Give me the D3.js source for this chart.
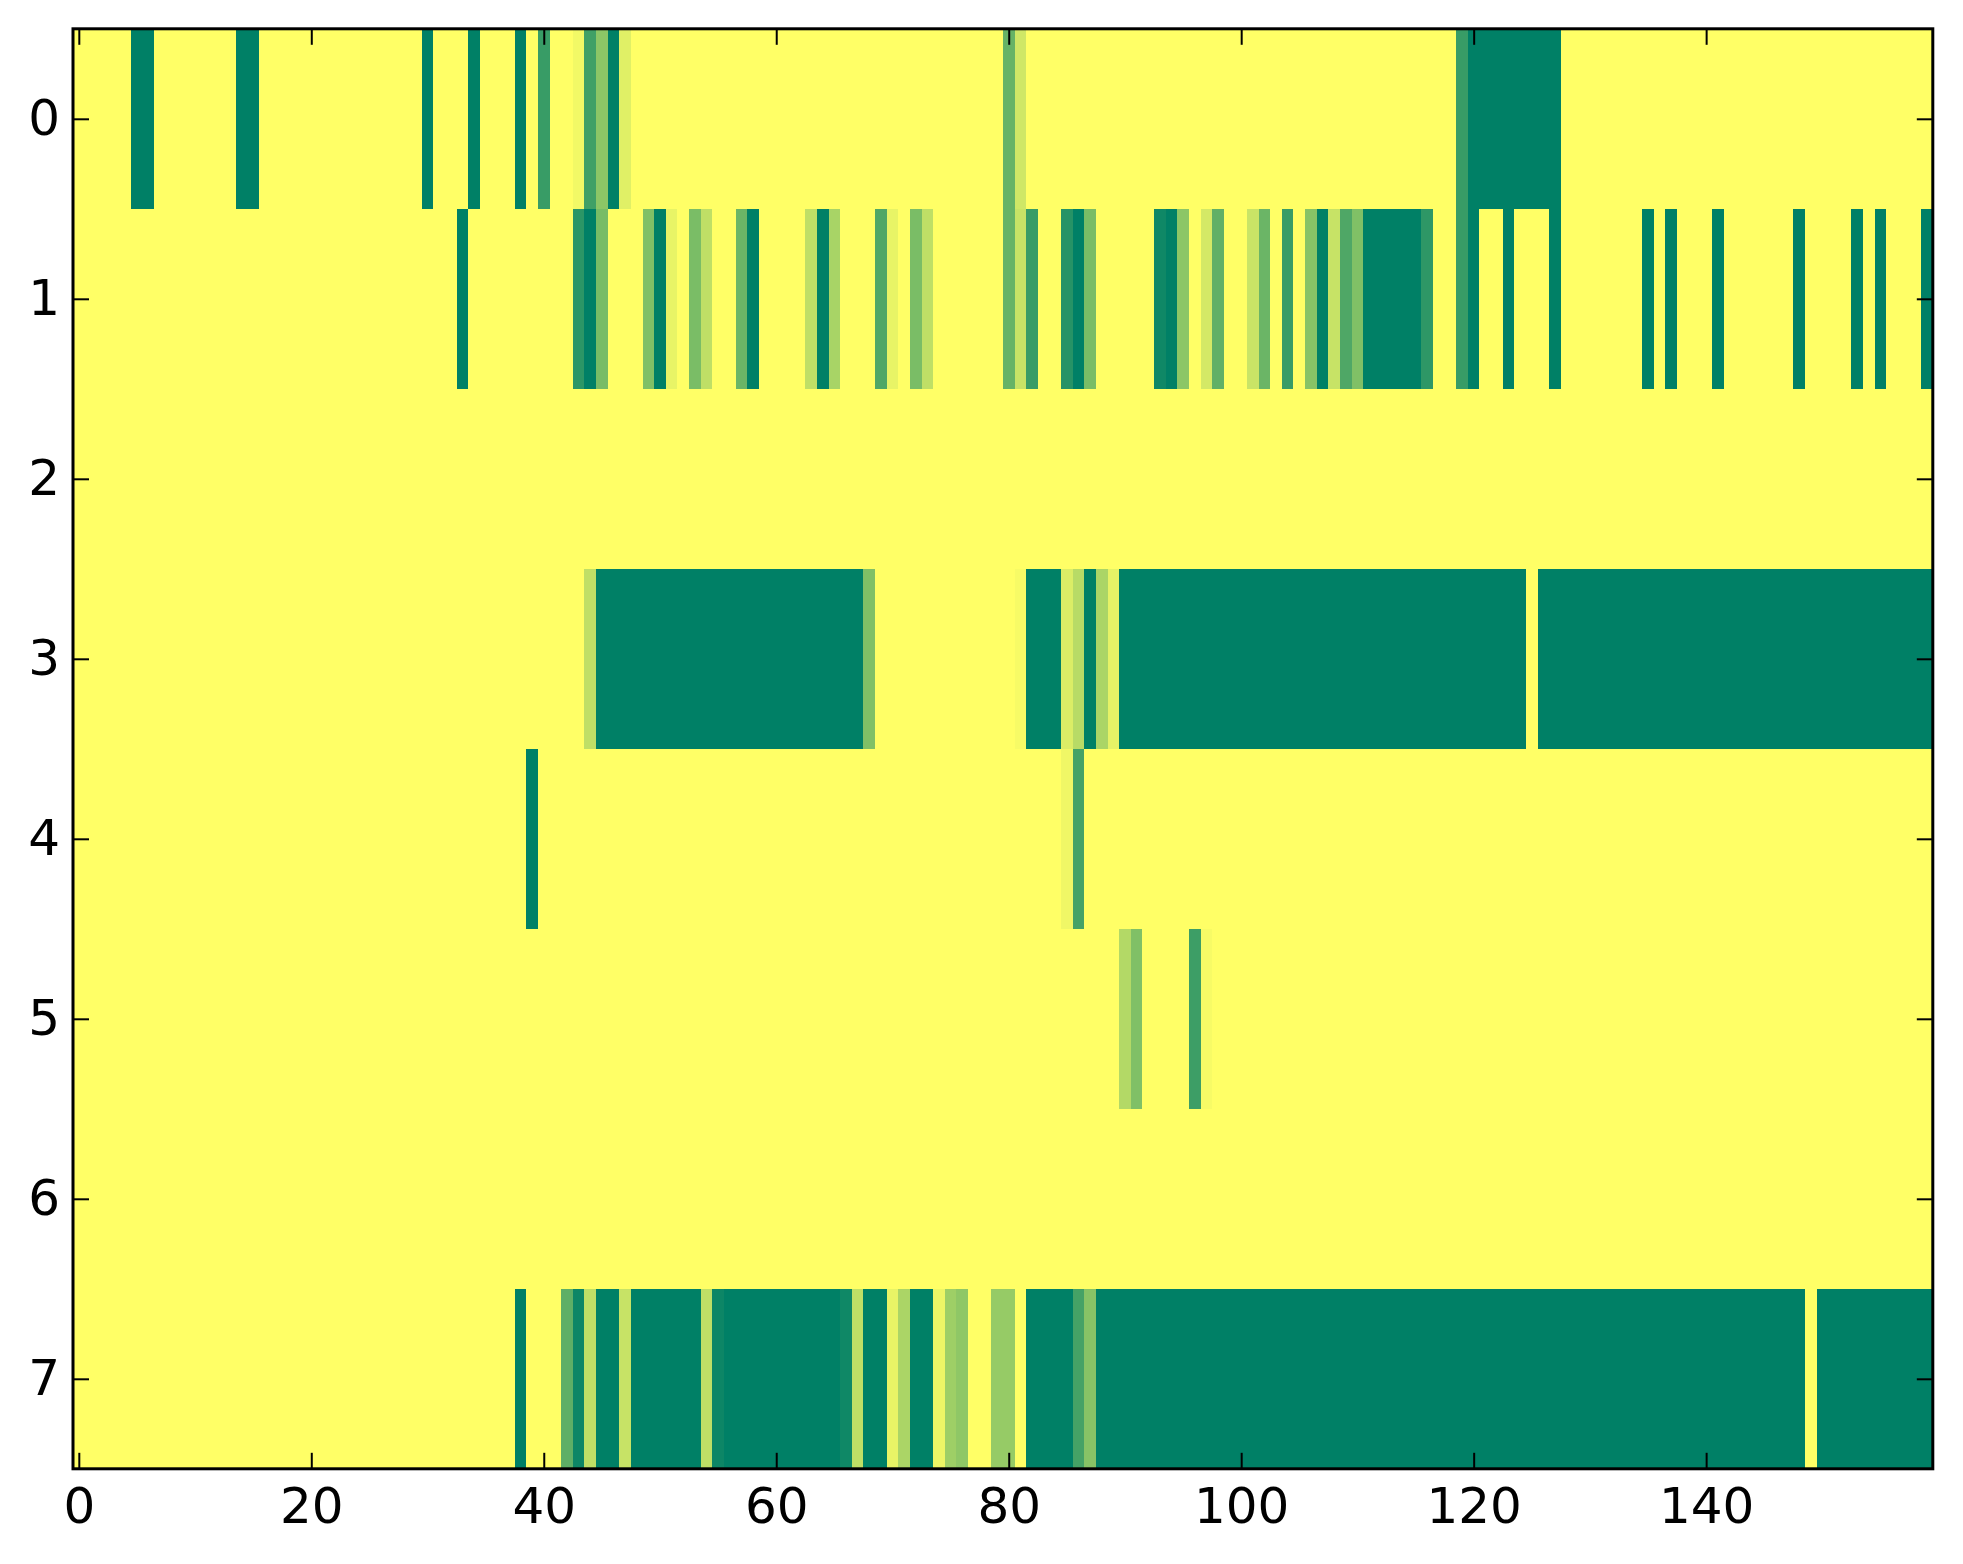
<!DOCTYPE html>
<html>
<head>
<meta charset="utf-8">
<script src="https://cdn.jsdelivr.net/npm/d3@7"></script>
<style>
  html, body { margin: 0; padding: 0; background: #ffffff; }
  svg { display: block; }
</style>
</head>
<body>
<div id="chart"></div>
<script>
// ---- Data (8 rows x 160 columns) ----
const rowLabels = [0, 1, 2, 3, 4, 5, 6, 7];
const xTickValues = [0, 20, 40, 60, 80, 100, 120, 140];

const row0 = [
  0,0,0,0,0,1,1,0,0,0, 0,0,0,0,1,1,0,0,0,0,
  0,0,0,0,0,0,0,0,0,0, 1,0,0,0,1,0,0,0,1,0,
  .78,0,0,.05,.75,.45,1,.12,0,0, 0,0,0,0,0,0,0,0,0,0,
  0,0,0,0,0,0,0,0,0,0, 0,0,0,0,0,0,0,0,0,0,
  .6,.19,0,0,0,0,0,0,0,0, 0,0,0,0,0,0,0,0,0,0,
  0,0,0,0,0,0,0,0,0,0, 0,0,0,0,0,0,0,0,0,.78,
  1,1,1,1,1,1,1,1,0,0, 0,0,0,0,0,0,0,0,0,0,
  0,0,0,0,0,0,0,0,0,0, 0,0,0,0,0,0,0,0,0,0
];
const row1 = [
  0,0,0,0,0,0,0,0,0,0, 0,0,0,0,0,0,0,0,0,0,
  0,0,0,0,0,0,0,0,0,0, 0,0,0,1,0,0,0,0,0,0,
  0,0,0,.83,1,.53,0,0,0,.5, 1,.09,0,.52,.25,0,0,.58,1,0,
  0,0,0,.25,1,.34,0,0,0,.69, .09,0,.52,.25,0,0,0,0,0,0,
  .6,.22,.78,0,0,.85,1,.52,0,0, 0,0,0,.94,1,.45,0,.17,.62,0,
  0,.21,.58,0,.78,0,.47,1,.22,.69, .5,1,1,1,1,1,.82,0,0,.78,
  1,0,0,1,0,0,0,1,0,0, 0,0,0,0,0,1,0,1,0,0,
  0,1,0,0,0,0,0,0,1,0, 0,0,0,1,0,1,0,0,0,1
];
const row2 = [
  0,0,0,0,0,0,0,0,0,0, 0,0,0,0,0,0,0,0,0,0,
  0,0,0,0,0,0,0,0,0,0, 0,0,0,0,0,0,0,0,0,0,
  0,0,0,0,0,0,0,0,0,0, 0,0,0,0,0,0,0,0,0,0,
  0,0,0,0,0,0,0,0,0,0, 0,0,0,0,0,0,0,0,0,0,
  0,0,0,0,0,0,0,0,0,0, 0,0,0,0,0,0,0,0,0,0,
  0,0,0,0,0,0,0,0,0,0, 0,0,0,0,0,0,0,0,0,0,
  0,0,0,0,0,0,0,0,0,0, 0,0,0,0,0,0,0,0,0,0,
  0,0,0,0,0,0,0,0,0,0, 0,0,0,0,0,0,0,0,0,0
];
const row3 = [
  0,0,0,0,0,0,0,0,0,0, 0,0,0,0,0,0,0,0,0,0,
  0,0,0,0,0,0,0,0,0,0, 0,0,0,0,0,0,0,0,0,0,
  0,0,0,0,.25,1,1,1,1,1, 1,1,1,1,1,1,1,1,1,1,
  1,1,1,1,1,1,1,1,.5,0, 0,0,0,0,0,0,0,0,0,0,
  0,.03,1,1,1,.14,.28,1,.33,.1, 1,1,1,1,1,1,1,1,1,1,
  1,1,1,1,1,1,1,1,1,1, 1,1,1,1,1,1,1,1,1,1,
  1,1,1,1,1,0,1,1,1,1, 1,1,1,1,1,1,1,1,1,1,
  1,1,1,1,1,1,1,1,1,1, 1,1,1,1,1,1,1,1,1,1
];
const row4 = [
  0,0,0,0,0,0,0,0,0,0, 0,0,0,0,0,0,0,0,0,0,
  0,0,0,0,0,0,0,0,0,0, 0,0,0,0,0,0,0,0,0,1,
  0,0,0,0,0,0,0,0,0,0, 0,0,0,0,0,0,0,0,0,0,
  0,0,0,0,0,0,0,0,0,0, 0,0,0,0,0,0,0,0,0,0,
  0,0,0,0,0,.06,.73,0,0,0, 0,0,0,0,0,0,0,0,0,0,
  0,0,0,0,0,0,0,0,0,0, 0,0,0,0,0,0,0,0,0,0,
  0,0,0,0,0,0,0,0,0,0, 0,0,0,0,0,0,0,0,0,0,
  0,0,0,0,0,0,0,0,0,0, 0,0,0,0,0,0,0,0,0,0
];
const row5 = [
  0,0,0,0,0,0,0,0,0,0, 0,0,0,0,0,0,0,0,0,0,
  0,0,0,0,0,0,0,0,0,0, 0,0,0,0,0,0,0,0,0,0,
  0,0,0,0,0,0,0,0,0,0, 0,0,0,0,0,0,0,0,0,0,
  0,0,0,0,0,0,0,0,0,0, 0,0,0,0,0,0,0,0,0,0,
  0,0,0,0,0,0,0,0,0,0, .3,.5,0,0,0,0,.76,.03,0,0,
  0,0,0,0,0,0,0,0,0,0, 0,0,0,0,0,0,0,0,0,0,
  0,0,0,0,0,0,0,0,0,0, 0,0,0,0,0,0,0,0,0,0,
  0,0,0,0,0,0,0,0,0,0, 0,0,0,0,0,0,0,0,0,0
];
const row6 = [
  0,0,0,0,0,0,0,0,0,0, 0,0,0,0,0,0,0,0,0,0,
  0,0,0,0,0,0,0,0,0,0, 0,0,0,0,0,0,0,0,0,0,
  0,0,0,0,0,0,0,0,0,0, 0,0,0,0,0,0,0,0,0,0,
  0,0,0,0,0,0,0,0,0,0, 0,0,0,0,0,0,0,0,0,0,
  0,0,0,0,0,0,0,0,0,0, 0,0,0,0,0,0,0,0,0,0,
  0,0,0,0,0,0,0,0,0,0, 0,0,0,0,0,0,0,0,0,0,
  0,0,0,0,0,0,0,0,0,0, 0,0,0,0,0,0,0,0,0,0,
  0,0,0,0,0,0,0,0,0,0, 0,0,0,0,0,0,0,0,0,0
];
const row7 = [
  0,0,0,0,0,0,0,0,0,0, 0,0,0,0,0,0,0,0,0,0,
  0,0,0,0,0,0,0,0,0,0, 0,0,0,0,0,0,0,0,1,0,
  0,0,.63,.95,.25,1,1,.22,1,1, 1,1,1,1,.25,.95,1,1,1,1,
  1,1,1,1,1,1,.94,.25,1,1, .09,.33,1,1,.07,.38,.44,0,0,.41,
  .41,0,1,1,1,1,.73,.47,1,1, 1,1,1,1,1,1,1,1,1,1,
  1,1,1,1,1,1,1,1,1,1, 1,1,1,1,1,1,1,1,1,1,
  1,1,1,1,1,1,1,1,1,1, 1,1,1,1,1,1,1,1,1,1,
  1,1,1,1,1,1,1,1,1,0, 1,1,1,1,1,1,1,1,1,1
];
const rows = [row0, row1, row2, row3, row4, row5, row6, row7];

// ---- Layout ----
const W = 1963, H = 1564;
const plotLeft = 73, plotRight = 1932.8, plotTop = 28.8, plotBottom = 1468.8;
const nCols = row0.length;

const svg = d3.select("#chart").append("svg")
  .attr("width", W).attr("height", H)
  .style("background", "#ffffff");

const x = d3.scaleLinear().domain([-0.5, nCols - 0.5]).range([plotLeft, plotRight]);
const y = d3.scaleLinear().domain([-0.5, rows.length - 0.5]).range([plotTop, plotBottom]);

// summer_r colormap: 0 -> yellow, 1 -> green
const color = d3.scaleLinear().domain([0, 1])
  .range(["#ffff66", "#008066"]).interpolate(d3.interpolateRgb);

const cells = [];
rows.forEach((r, ri) => r.forEach((v, ci) => cells.push({ r: ri, c: ci, v })));

svg.append("g").attr("shape-rendering", "crispEdges")
  .selectAll("rect").data(cells).join("rect")
  .attr("x", d => x(d.c - 0.5))
  .attr("y", d => y(d.r - 0.5))
  .attr("width", d => x(d.c + 0.5) - x(d.c - 0.5) + 0.5)
  .attr("height", d => y(d.r + 0.5) - y(d.r - 0.5) + 0.5)
  .attr("fill", d => color(d.v));

// ---- Axes (inward ticks on all four sides) ----
const font = "DejaVu Sans, sans-serif";
const tickLen = 16;

function styleAxis(g) {
  g.select(".domain").remove();
  g.selectAll(".tick line").attr("stroke", "#000").attr("stroke-width", 2);
  g.selectAll(".tick text").attr("fill", "#000")
    .style("font-family", font).style("font-size", "50px");
}

svg.append("g").attr("transform", `translate(0,${plotBottom})`)
  .call(d3.axisBottom(x).tickValues(xTickValues).tickFormat(d3.format("d"))
    .tickSizeInner(-tickLen).tickSizeOuter(0).tickPadding(19))
  .call(styleAxis);

svg.append("g").attr("transform", `translate(0,${plotTop})`)
  .call(d3.axisTop(x).tickValues(xTickValues).tickFormat("")
    .tickSizeInner(-tickLen).tickSizeOuter(0))
  .call(styleAxis);

svg.append("g").attr("transform", `translate(${plotLeft},0)`)
  .call(d3.axisLeft(y).tickValues(rowLabels).tickFormat(d3.format("d"))
    .tickSizeInner(-tickLen).tickSizeOuter(0).tickPadding(13))
  .call(styleAxis);

svg.append("g").attr("transform", `translate(${plotRight},0)`)
  .call(d3.axisRight(y).tickValues(rowLabels).tickFormat("")
    .tickSizeInner(-tickLen).tickSizeOuter(0))
  .call(styleAxis);

// frame
svg.append("rect")
  .attr("x", plotLeft).attr("y", plotTop)
  .attr("width", plotRight - plotLeft).attr("height", plotBottom - plotTop)
  .attr("fill", "none").attr("stroke", "#000").attr("stroke-width", 3);
</script>
</body>
</html>
